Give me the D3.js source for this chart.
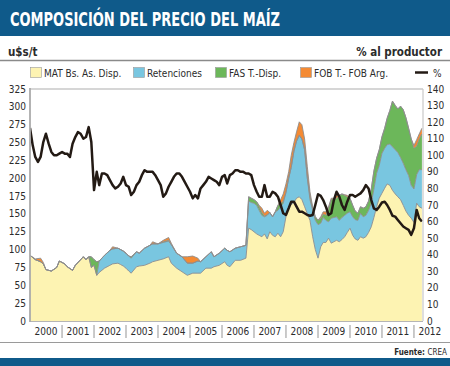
<!DOCTYPE html>
<html>
<head>
<meta charset="utf-8">
<script src="https://cdn.jsdelivr.net/npm/d3@7"></script>
<style>
body{margin:0;background:#fff;}
svg{display:block;font-family:"Liberation Sans Narrow","Arial Narrow","DejaVu Sans Condensed",sans-serif;}
</style>
</head>
<body>
<svg id="chart" width="450" height="366"></svg>
<script>
// ---- data (u$s/t) ----
var months = ['2000-01','2000-03','2000-05','2000-06','2000-07','2000-09','2000-11','2000-12',
 '2001-02','2001-03','2001-05','2001-06','2001-09','2001-10','2001-11','2001-12',
 '2002-01','2002-02','2002-03','2002-05','2002-07','2002-08','2002-10','2002-11','2002-12',
 '2003-01','2003-02','2003-03','2003-05','2003-06','2003-08','2003-10','2003-11',
 '2004-01','2004-03','2004-05','2004-06','2004-08','2004-10','2004-12',
 '2005-02','2005-04','2005-05','2005-07','2005-09','2005-10','2005-12',
 '2006-02','2006-03','2006-04','2006-06','2006-08','2006-10','2006-11','2006-12',
 '2007-01','2007-02','2007-03','2007-04','2007-05','2007-06','2007-07','2007-08','2007-09','2007-10','2007-11','2007-12',
 '2008-01','2008-02','2008-03','2008-04','2008-05','2008-06','2008-07','2008-08','2008-09','2008-10','2008-11','2008-12',
 '2009-01','2009-02','2009-03','2009-04','2009-05','2009-06','2009-07','2009-08','2009-09','2009-10','2009-11','2009-12',
 '2010-01','2010-02','2010-03','2010-04','2010-05','2010-06','2010-07','2010-08','2010-09','2010-10','2010-11','2010-12',
 '2011-01','2011-02','2011-03','2011-04','2011-05','2011-06','2011-07','2011-08','2011-09','2011-10','2011-11','2011-12',
 '2012-01','2012-02','2012-03','2012-04']
var mat = [92,86,83,80,72,70,75,84, 80,76,71,78,90,86,90,75, 78,64,68,74,78,80,81,79,77,
 74,70,67,76,77,78,81,83, 85,87,90,81,74,69,64, 67,67,67,74,74,76,78, 83,78,76,85,85,88,130,128,
 125,122,120,118,122,115,125,120,118,123,118,125, 146,160,163,166,172,174,170,160,150,141,118,100,
 88,104,110,110,116,109,111,113,111,114,118,124, 130,120,115,113,118,116,118,124,132,145,160,172,
 179,186,192,190,183,178,174,170,162,154,148,144, 138,165,160,158]
var ret = [0,0,0,0,0,0,0,0, 0,0,0,0,0,0,0,0, 0,0,16,18,21,21,21,21,21,
 21,21,21,21,18,24,25,25, 23,23,22,26,21,21,17, 14,17,16,16,23,14,17, 19,21,21,17,19,18,38,38,
 40,40,35,30,24,33,27,26,35,32,42,40, 34,40,52,72,80,86,85,80,50,29,37,41,
 47,33,35,31,23,35,34,33,30,31,30,27, 23,26,27,28,33,30,30,31,33,40,47,46,
 56,56,55,58,61,62,62,59,59,58,56,46, 47,40,52,54]
var fas = [0,0,0,0,0,0,0,0, 0,0,0,0,0,0,0,15, 8,19,0,0,0,0,0,0,0,
 0,0,2,0,0,0,0,0, 0,1,1,0,0,0,0, 0,0,0,0,0,0,0, 0,0,0,0,0,0,6,6,
 5,5,5,4,1,1,0,0,0,7,4,3, 0,0,0,0,0,0,0,0,0,5,3,5,
 6,7,5,7,19,26,27,26,35,33,28,23, 19,16,12,10,9,12,12,13,20,25,21,22,
 23,28,37,47,64,62,61,72,75,73,66,65, 57,40,43,50]
var fob = [0,1,5,2,0,0,0,0, 0,0,0,0,0,0,0,0, 0,0,0,0,0,3,0,0,0,
 0,0,0,0,0,0,0,3, 0,2,4,2,0,0,9, 10,4,0,0,0,0,0, 0,0,0,0,0,0,0,0,
 0,0,2,6,4,6,0,0,0,0,6,10, 12,9,17,12,13,19,20,15,16,6,2,0,
 0,2,3,5,2,2,0,4,0,0,1,2, 0,0,0,0,0,0,0,0,0,0,0,0,
 0,0,0,0,0,0,0,0,0,0,0,0, 4,9,7,8]
// % al productor, monthly from 2000-01 to 2012-04
var pctStart = '2000-01'
var pct = [116.5,106,99,96,99,108,113,107,102,100,100,101,
 102,101,101,99,107,111,114,113,110,111,117,108,
 79,90,82,89,89,88,85,82,80,81,83,87,
 82,81,76,78,82,84,88,91,90,90,90,88,
 85,82,75,77,81,84,87,89,89,87,84,81,
 78,74,76,74,80,82,84,87,86,85,84,82,
 87,88,83,88,89,91,91,90,90,89,89,88,
 82,78,75,75,82,75,75,78,77,75,70,65,
 64,68,72,72,69,66,66,65,64,63.5,64,70,
 76.5,75.5,73,69,64,65,73,78,75,70,67,72,
 76,76,75,76,77,79,82,80,73,68,67,69,
 71.5,72,70,67,63.5,63,61,59,57,56,55,52,
 56,67,62,60]
var years = ['2000','2001','2002','2003','2004','2005','2006','2007','2008','2009','2010','2011','2012']
var leftTicks = [0,25,50,75,100,125,150,175,200,225,250,275,300,325]
var rightTicks = [0,10,20,30,40,50,60,70,80,90,100,110,120,130,140]
var seriesKeys = ['mat','ret','fas','fob']
var seriesNames = ['MAT Bs. As. Disp.','Retenciones','FAS T.-Disp.','FOB T.- FOB Arg.']
var seriesColors = ['#fdf3b2','#79c6e0','#6cb75a','#f48a33']

var svg = d3.select('#chart')
var L = 30, R = 423, T = 89, B = 321
var parse = d3.timeParse('%Y-%m')
var x = d3.scaleTime().domain([new Date(2000,0,1), new Date(2013,0,1)]).range([L, L+13*32])
var yL = d3.scaleLinear().domain([0,325]).range([B,T])
var yR = d3.scaleLinear().domain([0,140]).range([B,T])
var blue = '#0f5a8a', ink = '#2b2b2b'

// header
svg.append('rect').attr('x',0).attr('y',0).attr('width',450).attr('height',36).attr('fill',blue)
svg.append('text').attr('x',10).attr('y',26).attr('fill','#fff').attr('font-weight','bold')
  .attr('font-size',20).attr('textLength',270).attr('lengthAdjust','spacingAndGlyphs')
  .text('COMPOSICIÓN DEL PRECIO DEL MAÍZ')
svg.append('text').attr('x',8).attr('y',56).attr('font-weight','bold').attr('font-size',11.5).attr('fill',ink).text('u$s/t')
svg.append('text').attr('x',442).attr('y',56).attr('text-anchor','end').attr('font-weight','bold').attr('font-size',11.5).attr('fill',ink).text('% al productor')
svg.append('line').attr('x1',0).attr('x2',450).attr('y1',60.5).attr('y2',60.5).attr('stroke','#8a8a8a').attr('stroke-width',1.5)

// legend
var legX = [30,133,215,300]
seriesNames.forEach(function(n,i){
  svg.append('rect').attr('x',legX[i]+0.5).attr('y',67.5).attr('width',11).attr('height',10)
    .attr('fill',seriesColors[i]).attr('stroke','#999').attr('stroke-width',0.6)
  svg.append('text').attr('x',legX[i]+14).attr('y',76.5).attr('font-size',10).attr('fill',ink).text(n)
})
svg.append('line').attr('x1',415).attr('x2',428).attr('y1',72.5).attr('y2',72.5).attr('stroke','#231a14').attr('stroke-width',2.5)
svg.append('text').attr('x',433).attr('y',76.5).attr('font-size',10).attr('fill',ink).text('%')

// stacked areas
var rows = months.map(function(m,i){
  return {date: parse(m), mat: mat[i], ret: ret[i], fas: fas[i], fob: fob[i]}
})
var stack = d3.stack().keys(seriesKeys)(rows)
svg.append('clipPath').attr('id','plotclip').append('rect').attr('x',L).attr('y',T).attr('width',R-L).attr('height',B-T)
var g = svg.append('g').attr('clip-path','url(#plotclip)')
var area = d3.area().x(function(d){ return x(d.data.date) }).y0(function(d){ return yL(d[0]) }).y1(function(d){ return yL(d[1]) })
g.selectAll('path.layer').data(stack).enter().append('path').attr('class','layer')
  .attr('d',area).attr('fill',function(d,i){ return seriesColors[i] })
var edge = d3.line().x(function(d){ return x(d.data.date) }).y(function(d){ return yL(d[1]) })
g.selectAll('path.edge').data(stack).enter().append('path').attr('class','edge')
  .attr('d',edge).attr('fill','none').attr('stroke','#8d8d8d').attr('stroke-width',0.9).attr('stroke-linejoin','round')

// % line
var pctDates = d3.timeMonth.range(parse(pctStart), d3.timeMonth.offset(parse(pctStart), pct.length))
var pline = d3.line().x(function(d,i){ return x(pctDates[i]) }).y(function(d){ return yR(d) })
g.append('path').datum(pct).attr('d',pline).attr('fill','none').attr('stroke','#231a14')
  .attr('stroke-width',2.5).attr('stroke-linejoin','round')

// frame
svg.append('line').attr('x1',L).attr('x2',R).attr('y1',T).attr('y2',T).attr('stroke','#c8c8c8').attr('stroke-width',1.5)
svg.append('line').attr('x1',R).attr('x2',R).attr('y1',T).attr('y2',B).attr('stroke','#c8c8c8').attr('stroke-width',1.2)
svg.append('line').attr('x1',L).attr('x2',R).attr('y1',B+0.5).attr('y2',B+0.5).attr('stroke','#b5b5b5').attr('stroke-width',1.2)
svg.append('line').attr('x1',L).attr('x2',L).attr('y1',T-1).attr('y2',B+1).attr('stroke','#ababab').attr('stroke-width',1.8)

// axes labels
svg.selectAll('text.lt').data(leftTicks).enter().append('text').attr('class','lt')
  .attr('x',26).attr('y',function(d){ return yL(d)+3.5 }).attr('text-anchor','end')
  .attr('font-size',10).attr('fill',ink).text(function(d){ return d })
svg.selectAll('text.rt').data(rightTicks).enter().append('text').attr('class','rt')
  .attr('x',427).attr('y',function(d){ return yR(d)+3.5 })
  .attr('font-size',10).attr('fill',ink).text(function(d){ return d })
svg.selectAll('text.yr').data(years).enter().append('text').attr('class','yr')
  .attr('x',function(d){ return x(new Date(+d,6,1)) }).attr('y',335).attr('text-anchor','middle')
  .attr('font-size',10).attr('fill',ink).text(function(d){ return d })
svg.selectAll('line.sep').data(years.slice(1)).enter().append('line').attr('class','sep')
  .attr('x1',function(d){ return x(new Date(+d,0,1)) }).attr('x2',function(d){ return x(new Date(+d,0,1)) })
  .attr('y1',325).attr('y2',338).attr('stroke','#bdbdbd').attr('stroke-width',1.6)

// footer
svg.append('line').attr('x1',0).attr('x2',450).attr('y1',342.5).attr('y2',342.5).attr('stroke','#9a9a9a').attr('stroke-width',1.2)
var src = svg.append('text').attr('x',447).attr('y',355).attr('text-anchor','end').attr('font-size',8).attr('fill',ink)
src.append('tspan').attr('font-weight','bold').text('Fuente: ')
src.append('tspan').text('CREA')
svg.append('rect').attr('x',0).attr('y',358).attr('width',450).attr('height',8).attr('fill',blue)
</script>
</body>
</html>
